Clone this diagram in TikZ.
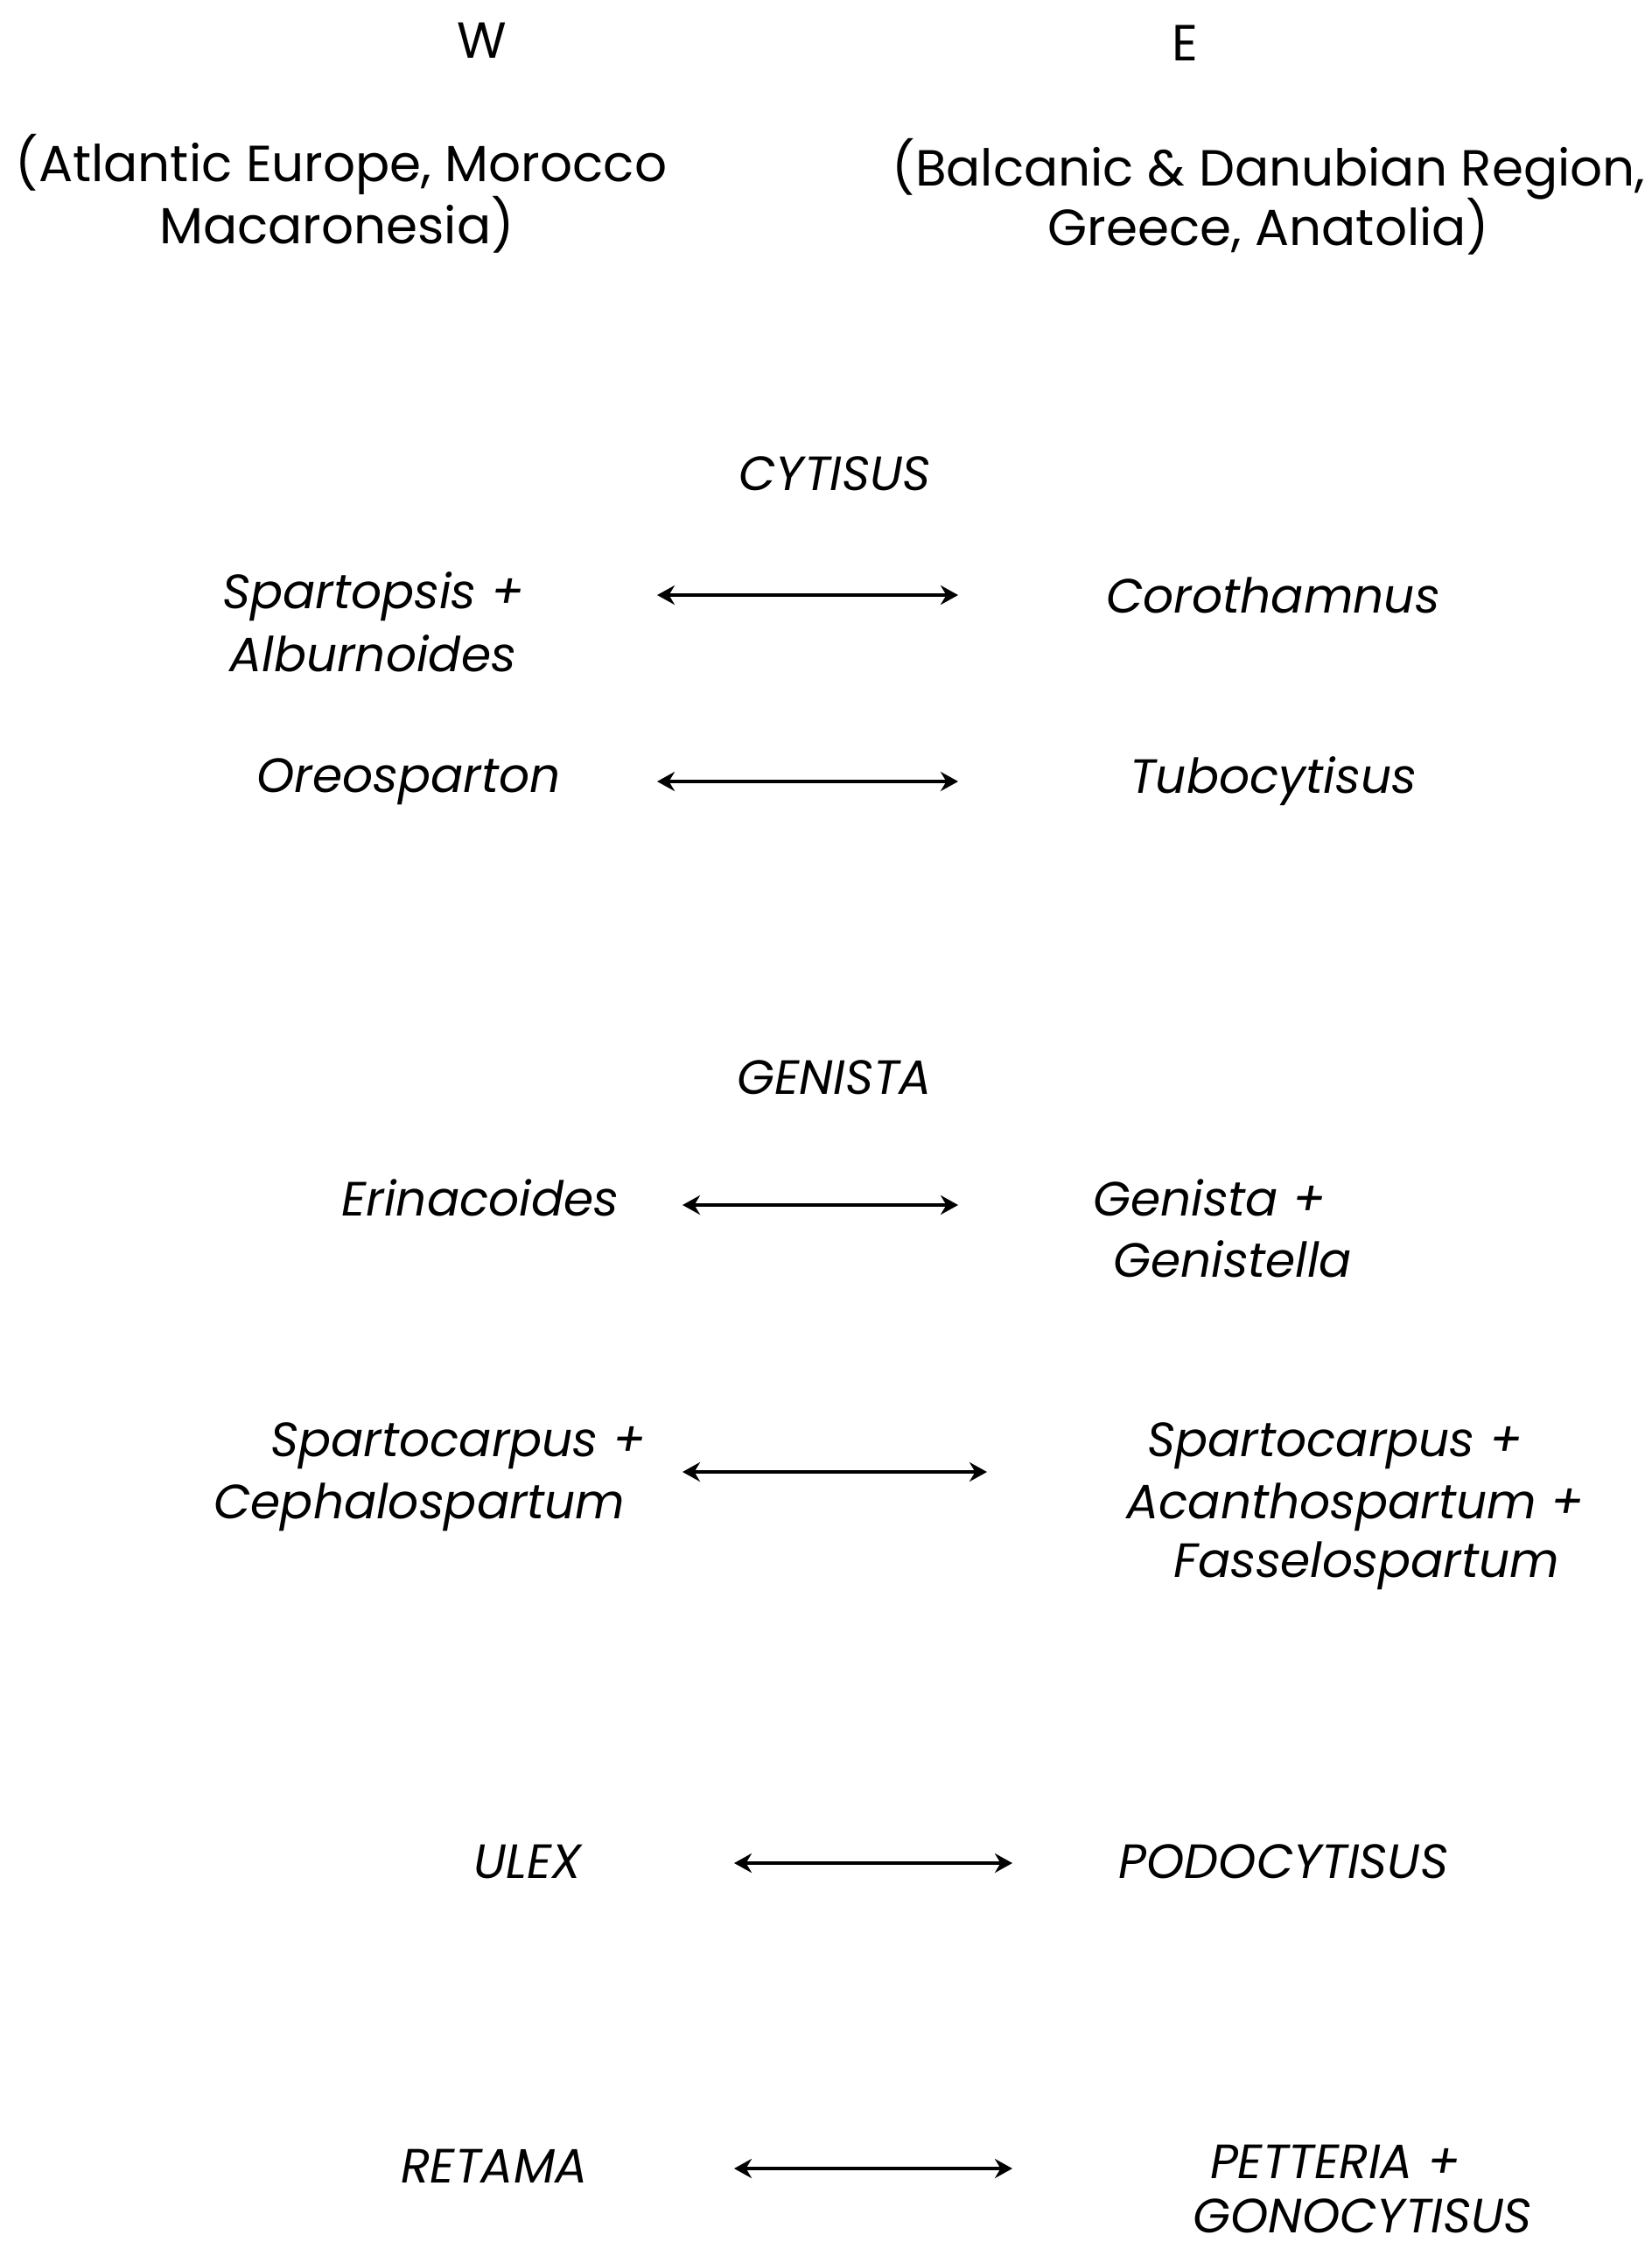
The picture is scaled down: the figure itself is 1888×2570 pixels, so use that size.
\documentclass[tikz,border=0pt]{standalone}
\usepackage{fontspec}
\setmainfont{Poppins}
\usetikzlibrary{arrows.meta}
\begin{document}
\begin{tikzpicture}[x=0.5pt,y=-0.5pt,
  lbl/.style={inner sep=0pt,font=\fontsize{29}{34}\selectfont},
  tax/.style={lbl,font=\fontsize{27.5}{33}\selectfont\itshape},
  link/.style={line width=2.2pt,{Stealth[length=10pt,width=11pt]}-{Stealth[length=10pt,width=11pt]}}]
\useasboundingbox (0,0) rectangle (1888,2570);
% headers
\node[lbl] (W) at (551,46) {W};
\node[lbl] (E) at (1354,49) {E};
\node[lbl] (w1) at (390,188) {(Atlantic Europe, Morocco};
\node[lbl] (w2) at (385,257) {Macaronesia)};
\node[lbl] (e1) at (1450,193) {(Balcanic \& Danubian Region,};
\node[lbl] (e2) at (1450,259) {Greece, Anatolia)};
% CYTISUS
\node[tax] (cyt) at (954,541) {CYTISUS};
\node[tax,anchor=west] (spa1) at (254,682) {Spartopsis +};
\node[tax,anchor=west] (spa2) at (262,747) {Alburnoides};
\node[tax] (cor) at (1455,680) {Corothamnus};
\coordinate (a1l) at (751,680); \coordinate (a1r) at (1095,680);
\draw[link] (a1l) -- (a1r);
\node[tax] (ore) at (467,893) {Oreosparton};
\node[tax] (tub) at (1455,893) {Tubocytisus};
\coordinate (a2l) at (751,893); \coordinate (a2r) at (1095,893);
\draw[link] (a2l) -- (a2r);
% GENISTA
\node[tax] (gen) at (954,1231) {GENISTA};
\node[tax] (eri) at (549,1369) {Erinacoides};
\node[tax,anchor=west] (gen1) at (1249,1369) {Genista +};
\node[tax,anchor=west] (gen2) at (1272,1439) {Genistella};
\coordinate (a3l) at (780,1377); \coordinate (a3r) at (1095,1377);
\draw[link] (a3l) -- (a3r);
\node[tax,anchor=east] (sl1) at (738,1652) {Spartocarpus +};
\node[tax,anchor=east] (sl2) at (715,1722) {Cephalospartum};
\node[tax,anchor=west] (sr1) at (1311,1652) {Spartocarpus +};
\node[tax,anchor=west] (sr2) at (1287,1722) {Acanthospartum +};
\node[tax,anchor=west] (sr3) at (1341,1789) {Fasselospartum};
\coordinate (a4l) at (780,1682); \coordinate (a4r) at (1128,1682);
\draw[link] (a4l) -- (a4r);
% ULEX
\node[tax] (ule) at (603,2127) {ULEX};
\node[tax] (pod) at (1467,2127) {PODOCYTISUS};
\coordinate (a5l) at (839,2129); \coordinate (a5r) at (1157,2129);
\draw[link] (a5l) -- (a5r);
% RETAMA
\node[tax] (ret) at (565,2475) {RETAMA};
\node[tax] (pet) at (1526,2470) {PETTERIA +};
\node[tax] (gon) at (1557,2532) {GONOCYTISUS};
\coordinate (a6l) at (839,2478); \coordinate (a6r) at (1157,2478);
\draw[link] (a6l) -- (a6r);
\end{tikzpicture}
\end{document}
